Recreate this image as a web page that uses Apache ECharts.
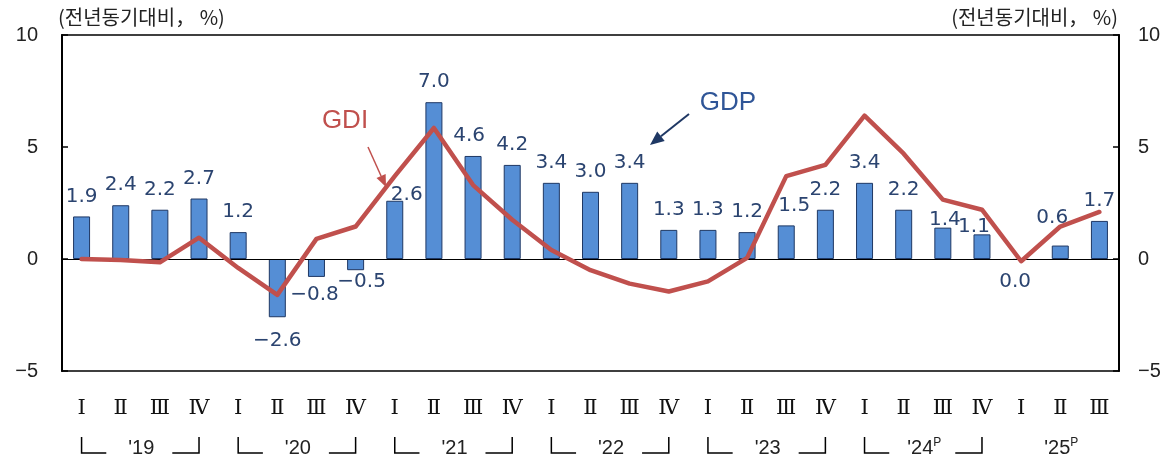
<!DOCTYPE html>
<html>
<head>
<meta charset="utf-8">
<title>GDP · GDI</title>
<script src="https://cdn.jsdelivr.net/npm/echarts@6/dist/echarts.min.js"></script>
<style>
  html, body { margin: 0; padding: 0; background: #fff; }
  #chart { width: 1173px; height: 462px; }
</style>
</head>
<body>
<div id="chart"></div>
<script>
// 분기 라벨
const quarters = [
  "Ⅰ", "Ⅱ", "Ⅲ", "Ⅳ", "Ⅰ", "Ⅱ", "Ⅲ", "Ⅳ", "Ⅰ", "Ⅱ", "Ⅲ", "Ⅳ",
  "Ⅰ", "Ⅱ", "Ⅲ", "Ⅳ", "Ⅰ", "Ⅱ", "Ⅲ", "Ⅳ", "Ⅰ", "Ⅱ", "Ⅲ", "Ⅳ",
  "Ⅰ", "Ⅱ", "Ⅲ"
];
// 연도 라벨 (from/to = 분기 인덱스)
const yearLabels = ["'19", "'20", "'21", "'22", "'23", "'24", "'25"];
const yearPrelim = [false, false, false, false, false, true, true];
const yearFrom = [0, 4, 8, 12, 16, 20, 24];
const yearTo = [3, 7, 11, 15, 19, 23, 26];
const yearBracket = [true, true, true, true, true, true, false];

// GDP (막대), GDI (선) 전년동기대비 %
const gdp = [1.9, 2.4, 2.2, 2.7, 1.2, -2.6, -0.8, -0.5, 2.6, 7.0, 4.6, 4.2,
  3.4, 3.0, 3.4, 1.3, 1.3, 1.2, 1.5, 2.2, 3.4, 2.2, 1.4, 1.1, -0.04, 0.6, 1.7];
const gdi = [0.0, -0.05, -0.15, 0.95, -0.4, -1.6, 0.9, 1.45, 3.7, 5.85, 3.3, 1.75,
  0.4, -0.5, -1.1, -1.45, -1.0, 0.05, 3.7, 4.2, 6.4, 4.7, 2.65, 2.2, -0.1, 1.45, 2.1];

const yTicks = [-5, 0, 5, 10];

(function () {
  const myChart = echarts.init(document.getElementById("chart"));

  const numFont = "Liberation Sans";
  const barFont = "DejaVu Sans";
  const krFont = "Noto Sans CJK KR";
  const labelColor = "#2b4470";

  // 일부 막대 라벨 위치 조정
  const labelTweak = {
    5: { position: "bottom", distance: 14 },
    6: { position: "bottom", distance: 8, offset: [-2, 0] },
    7: { position: "bottom", distance: 2, offset: [6, 0] },
    8: { offset: [12, 14] },
    10: { offset: [-4, 0] },
    18: { offset: [8, 0] },
    22: { offset: [2, 12] },
    23: { offset: [-8, 12] },
    24: { position: "bottom", distance: 12, offset: [-6, 0] },
    25: { offset: [-8, -8] },
  };

  const barData = gdp.map((v, i) => {
    const item = { value: v };
    if (labelTweak[i]) item.label = labelTweak[i];
    return item;
  });

  const fmt = (v) => String(v).replace("-", "−");

  const option = {
    animation: false,
    grid: {
      left: 62, right: 54, top: 35, bottom: 91,
      show: true, borderColor: "#000", borderWidth: 1.5,
    },
    xAxis: {
      type: "category",
      data: quarters,
      axisLine: { show: false },
      axisTick: { show: false },
      axisLabel: {
        margin: 27, fontSize: 21, color: "#111", fontFamily: "DejaVu Serif",
        interval: 0,
      },
    },
    yAxis: [0, 1].map((k) => ({
      type: "value",
      position: k === 0 ? "left" : "right",
      min: yTicks[0],
      max: yTicks[yTicks.length - 1],
      interval: 5,
      axisLine: { show: true, lineStyle: { color: "#000", width: 2 } },
      axisTick: { show: true, inside: true, length: 6, lineStyle: { color: "#000", width: 1.5 } },
      splitLine: { show: false },
      axisLabel: {
        margin: k === 0 ? 24 : 19,
        fontSize: 20,
        color: "#222",
        fontFamily: numFont,
        formatter: fmt,
      },
    })),
    series: [
      {
        name: "GDP",
        type: "bar",
        data: barData,
        barWidth: 17,
        itemStyle: { color: "#558ed5", borderColor: "#1f3864", borderWidth: 1 },
        label: {
          show: true,
          position: "top",
          distance: 10,
          fontSize: 20,
          fontFamily: barFont,
          color: labelColor,
          formatter: (p) => fmt((Math.round(p.value * 10) / 10 + 0).toFixed(1)).replace("−0.0", "0.0"),
        },
        markLine: {
          silent: true,
          symbol: "none",
          label: { show: false },
          lineStyle: { color: "#000", width: 1.2, type: "solid" },
          data: [{ yAxis: 0 }],
        },
      },
      {
        name: "GDI",
        type: "line",
        data: gdi,
        symbol: "none",
        lineStyle: { color: "#c0504d", width: 4.5, cap: "round", join: "round" },
        z: 5,
      },
    ],
  };

  myChart.setOption(option);

  // 화살표 그리기
  function arrow(x1, y1, x2, y2, color, w, headLen, headW) {
    const dx = x2 - x1, dy = y2 - y1;
    const len = Math.sqrt(dx * dx + dy * dy);
    const ux = dx / len, uy = dy / len;
    const bx = x2 - ux * headLen, by = y2 - uy * headLen;
    return [
      { type: "line", shape: { x1: x1, y1: y1, x2: bx, y2: by }, style: { stroke: color, lineWidth: w }, silent: true },
      {
        type: "polygon",
        shape: { points: [[x2, y2], [bx - uy * headW, by + ux * headW], [bx + uy * headW, by - ux * headW]] },
        style: { fill: color }, silent: true,
      },
    ];
  }

  const titleStyle = { text: "(전년동기대비， %)", fontSize: 20, fontFamily: krFont, fill: "#222" };
  const graphics = [
    { type: "text", left: 58, top: 7, style: titleStyle },
    { type: "text", right: 55, top: 7, style: titleStyle },
    { type: "text", x: 345, y: 121, style: { text: "GDI", fontSize: 26, fontFamily: numFont, fill: "#c0504d", align: "center", verticalAlign: "middle" } },
    { type: "text", x: 728, y: 103, style: { text: "GDP", fontSize: 26, fontFamily: numFont, fill: "#2f5597", align: "center", verticalAlign: "middle" } },
  ]
    .concat(arrow(368, 147, 386, 187, "#c0504d", 1.5, 12, 5))
    .concat(arrow(689, 114, 650, 145, "#1f3864", 2, 14, 6));

  // 연도 라벨과 괄호
  const yTop = 437, yBot = 453, yText = 448;
  yearLabels.forEach((lab, i) => {
    const x0 = myChart.convertToPixel({ xAxisIndex: 0 }, yearFrom[i]);
    const x1 = myChart.convertToPixel({ xAxisIndex: 0 }, yearTo[i]);
    const mid = (x0 + x1) / 2;
    graphics.push({
      type: "text", x: mid + 1, y: yText,
      style: {
        text: yearPrelim[i] ? "{y|" + lab + "}{p|P}" : "{y|" + lab + "}",
        align: "center", verticalAlign: "middle",
        rich: {
          y: { fontSize: 20, fontFamily: numFont, fill: "#222", lineHeight: 22 },
          p: { fontSize: 12, fontFamily: numFont, fill: "#222", verticalAlign: "top", lineHeight: 12 },
        },
      },
      silent: true,
    });
    if (yearBracket[i]) {
      const st = { stroke: "#000", lineWidth: 1.5, fill: null };
      graphics.push({ type: "polyline", shape: { points: [[x0, yTop], [x0, yBot], [mid - 34, yBot]] }, style: st, silent: true });
      graphics.push({ type: "polyline", shape: { points: [[mid + 32, yBot], [x1, yBot], [x1, yTop]] }, style: st, silent: true });
    }
  });

  myChart.setOption({ graphic: graphics });

  window.addEventListener("resize", function () {
    myChart.resize();
  });
})();
</script>
</body>
</html>
